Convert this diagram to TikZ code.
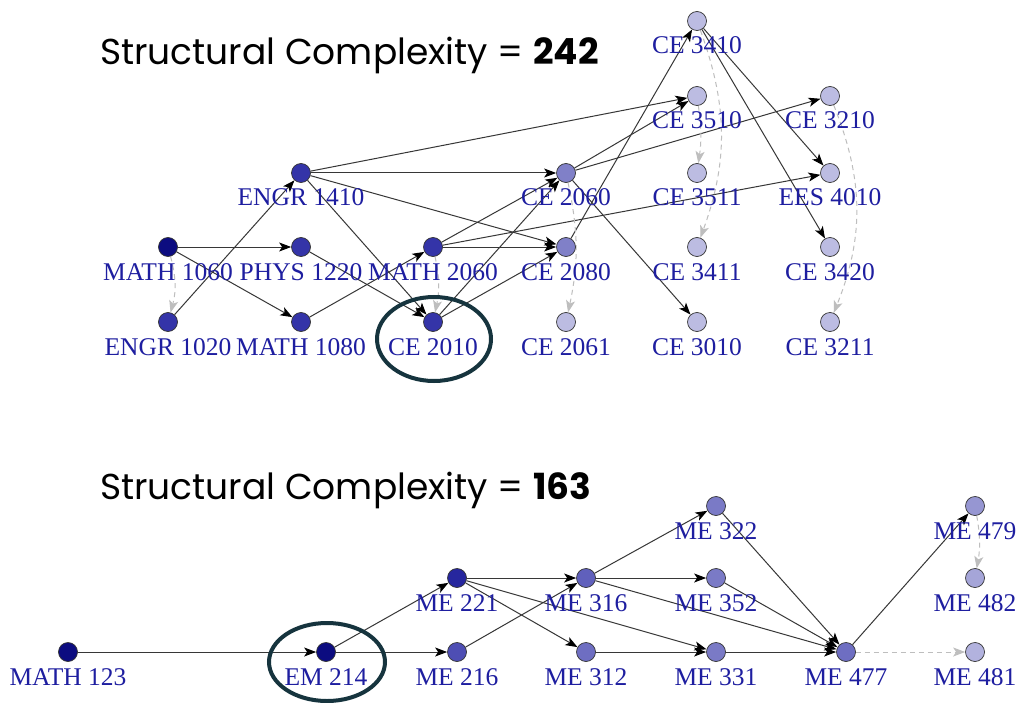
\documentclass[tikz,border=0pt]{standalone}
\usepackage{fontspec}
\usetikzlibrary{arrows.meta,shapes.geometric}
\setmainfont{Liberation Serif}
\newfontfamily\titlefont{Poppins}
\definecolor{n0}{RGB}{12,12,128}
\definecolor{n1}{RGB}{52,52,168}
\definecolor{n2}{RGB}{128,128,200}
\definecolor{n3}{RGB}{188,188,226}
\definecolor{b221}{RGB}{38,38,158}
\definecolor{b216}{RGB}{78,78,180}
\definecolor{b316}{RGB}{96,96,188}
\definecolor{b312}{RGB}{110,110,194}
\definecolor{b3xx}{RGB}{122,122,198}
\definecolor{b479}{RGB}{150,150,210}
\definecolor{b482}{RGB}{165,165,216}
\definecolor{b481}{RGB}{178,178,222}
\definecolor{labelblue}{RGB}{30,30,160}
\definecolor{edgecol}{RGB}{55,55,55}
\definecolor{dashcol}{RGB}{190,190,190}
\definecolor{ringcol}{RGB}{22,52,62}
\pgfdeclarelayer{bg}
\pgfsetlayers{bg,main}
\tikzset{
  vtx/.style={circle, minimum size=19pt, inner sep=0pt, draw=black!80, line width=0.7pt},
  lbl/.style={anchor=base, inner sep=0pt, text=labelblue, font=\fontsize{25.5}{25.5}\selectfont},
  ed/.style={draw=edgecol, line width=1pt, -{Stealth[length=12pt,width=9pt,inset=3pt,color=black]}},
  dsh/.style={draw=dashcol, line width=1pt, dash pattern=on 5pt off 4pt, -{Stealth[length=12pt,width=9pt,inset=3pt,color=dashcol]}},
  ring/.style={draw=ringcol, line width=4pt},
  ttl/.style={anchor=base west, inner sep=0pt, font=\titlefont\fontsize{36}{36}\selectfont}
}
\newcommand{\mkvtx}[5]{\node[vtx,fill=#4] (#1) at (#2,#3) {}; \node[lbl] (#1-l) at ([yshift=-33pt]#1.center) {#5};}
\begin{document}
\begin{tikzpicture}[x=1pt,y=-1pt]
\path[use as bounding box] (0,0) rectangle (1016,703);
% titles
\node[ttl] (t1) at (100,65) {Structural Complexity = \textbf{242}};
\node[ttl] (t2) at (100,499) {Structural Complexity = \textbf{163}};
% top graph
\mkvtx{c3410}{697}{21}{n3}{CE 3410}
\mkvtx{c3510}{697}{96}{n3}{CE 3510}
\mkvtx{c3210}{830}{96}{n3}{CE 3210}
\mkvtx{e1410}{301}{173}{n1}{ENGR 1410}
\mkvtx{c2060}{566}{173}{n2}{CE 2060}
\mkvtx{c3511}{697}{173}{n3}{CE 3511}
\mkvtx{ees4010}{830}{173}{n3}{EES 4010}
\mkvtx{m1060}{168}{247}{n0}{MATH 1060}
\mkvtx{p1220}{301}{247}{n1}{PHYS 1220}
\mkvtx{m2060}{433}{247}{n1}{MATH 2060}
\mkvtx{c2080}{566}{247}{n2}{CE 2080}
\mkvtx{c3411}{697}{247}{n3}{CE 3411}
\mkvtx{c3420}{830}{247}{n3}{CE 3420}
\mkvtx{e1020}{168}{322}{n1}{ENGR 1020}
\mkvtx{m1080}{301}{322}{n1}{MATH 1080}
\mkvtx{c2010}{433}{322}{n1}{CE 2010}
\mkvtx{c2061}{566}{322}{n3}{CE 2061}
\mkvtx{c3010}{697}{322}{n3}{CE 3010}
\mkvtx{c3211}{830}{322}{n3}{CE 3211}
% bottom graph
\mkvtx{me322}{716}{506}{b3xx}{ME 322}
\mkvtx{me479}{975}{506}{b479}{ME 479}
\mkvtx{me221}{457}{578}{b221}{ME 221}
\mkvtx{me316}{586}{578}{b316}{ME 316}
\mkvtx{me352}{716}{578}{b3xx}{ME 352}
\mkvtx{me482}{975}{578}{b482}{ME 482}
\mkvtx{math123}{68}{652}{n0}{MATH 123}
\mkvtx{em214}{326}{652}{n0}{EM 214}
\mkvtx{me216}{457}{652}{b216}{ME 216}
\mkvtx{me312}{586}{652}{b312}{ME 312}
\mkvtx{me331}{716}{652}{b3xx}{ME 331}
\mkvtx{me477}{846}{652}{b312}{ME 477}
\mkvtx{me481}{975}{652}{b481}{ME 481}
% rings
\node[ring, ellipse, minimum width=114pt, minimum height=84pt] (ring1) at (434,339) {};
\node[ring, ellipse, minimum width=116pt, minimum height=78pt] (ring2) at (327,662) {};
\begin{pgfonlayer}{bg}
\fill[white] (0,0) rectangle (1016,703);
% top edges
\draw[ed] (m1060) -- (p1220);
\draw[ed] (m1060) -- (m1080);
\draw[dsh] (m1060) to[bend left=15] (e1020);
\draw[ed] (e1020) -- (e1410);
\draw[ed] (p1220) -- (c2010);
\draw[ed] (m1080) -- (m2060);
\draw[ed] (e1410) -- (c3510);
\draw[ed] (e1410) -- (c2060);
\draw[ed] (e1410) -- (c2080);
\draw[ed] (e1410) -- (c2010);
\draw[ed] (m2060) -- (c2060);
\draw[ed] (m2060) -- (c2080);
\draw[ed] (m2060) -- (ees4010);
\draw[dsh] (m2060) to[bend left=12] (c2010);
\draw[ed] (c2010) -- (c2060);
\draw[ed] (c2010) -- (c2080);
\draw[ed] (c2080) -- (c3410);
\draw[ed] (c2060) -- (c3510);
\draw[ed] (c2060) -- (c3210);
\draw[ed] (c2060) -- (c3010);
\draw[dsh] (c2060) to[bend left=12] (c2061);
\draw[ed] (c3410) -- (ees4010);
\draw[ed] (c3410) -- (c3420);
\draw[dsh] (c3410) to[bend left=20] (c3411);
\draw[dsh] (c3510) to[bend left=8] (c3511);
\draw[dsh] (c3210) to[bend left=22] (c3211);
% bottom edges
\draw[ed] (math123) -- (em214);
\draw[ed] (em214) -- (me221);
\draw[ed] (em214) -- (me216);
\draw[ed] (me221) -- (me316);
\draw[ed] (me221) -- (me312);
\draw[ed] (me221) -- (me331);
\draw[ed] (me216) -- (me316);
\draw[ed] (me316) -- (me322);
\draw[ed] (me316) -- (me352);
\draw[ed] (me316) -- (me477);
\draw[ed] (me322) -- (me477);
\draw[ed] (me352) -- (me477);
\draw[ed] (me312) -- (me331);
\draw[ed] (me331) -- (me477);
\draw[ed] (me477) -- (me479);
\draw[dsh] (me477) -- (me481);
\draw[dsh] (me479) to[bend left=10] (me482);
\end{pgfonlayer}
\end{tikzpicture}
\end{document}
